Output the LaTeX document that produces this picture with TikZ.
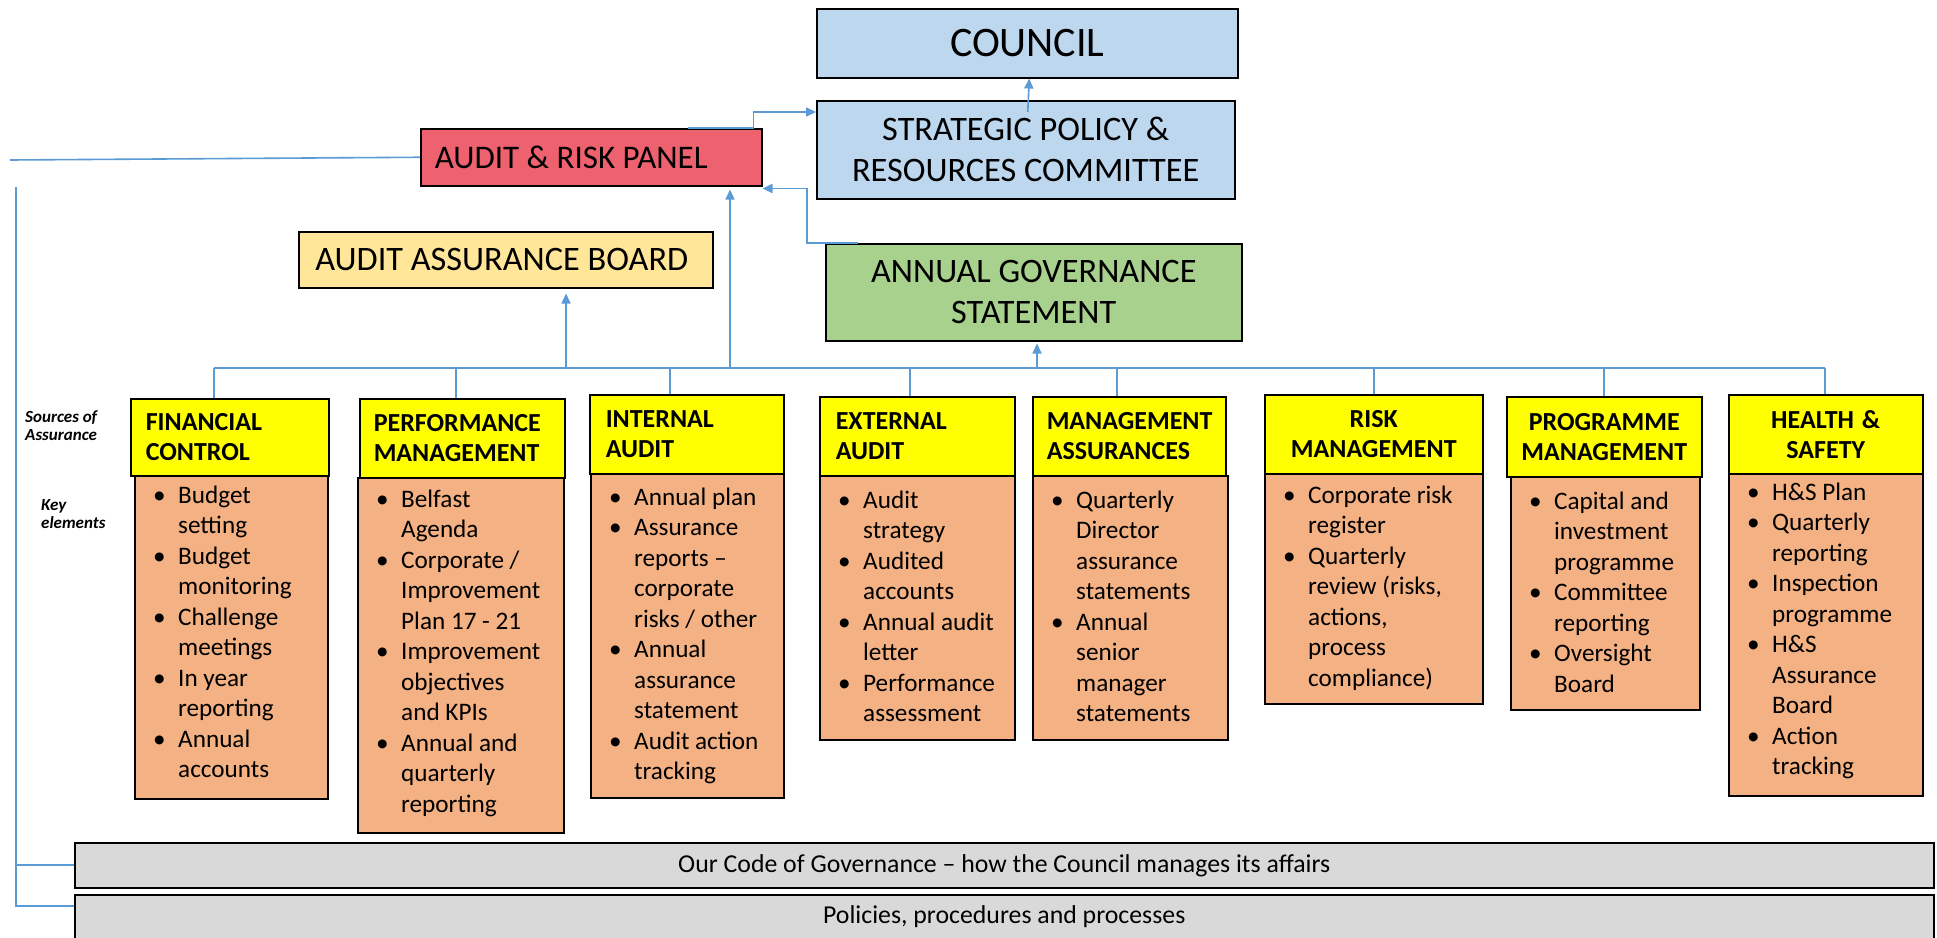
\documentclass[tikz,border=0pt]{standalone}
\usepackage{fontspec}
\setmainfont{Carlito}
\usetikzlibrary{arrows.meta,calc}
\definecolor{cblue}{HTML}{BDD7EE}
\definecolor{cred}{HTML}{EE6270}
\definecolor{cyel}{HTML}{FFE699}
\definecolor{cgreen}{HTML}{A9D18E}
\definecolor{hyel}{HTML}{FFFF00}
\definecolor{corange}{HTML}{F4B183}
\definecolor{cgray}{HTML}{D9D9D9}
\definecolor{lblue}{HTML}{5B9BD5}
\newcommand{\bl}[1]{\par\noindent\hspace*{19pt}\makebox[25pt][l]{\textbullet}\mbox{#1}}
\newcommand{\cl}[1]{\par\noindent\hspace*{44pt}\mbox{#1}}
\newcommand{\bodyfont}{\fontsize{25.2pt}{30.5pt}\selectfont}
\begin{document}
\begin{tikzpicture}[x=1pt,y=-1pt,
  box/.style={draw=black, line width=1.5pt, inner sep=0pt, anchor=north west},
  conn/.style={draw=lblue, line width=1.6pt},
  arr/.style={conn, -{Triangle[length=10pt,width=9pt]}},
  hdr/.style={box, fill=hyel, font=\fontsize{26pt}{30pt}\selectfont\bfseries},
  bod/.style={box, fill=corange},
  bar/.style={box, fill=cgray, font=\fontsize{25.8pt}{30pt}\selectfont},
  btxt/.style={anchor=base west, inner sep=0pt},
  big/.style={box, font=\fontsize{34.3pt}{41pt}\selectfont},
]
\useasboundingbox[fill=white] (0,0) rectangle (1937,937);

% top boxes
\node[box, fill=cblue, minimum width=421pt, minimum height=69pt, font=\fontsize{42pt}{48pt}\selectfont] (council) at (816,8) {COUNCIL};
\node[big, fill=cblue, minimum width=418pt, minimum height=98pt, align=center] (spr) at (816,100) {STRATEGIC POLICY \&\\RESOURCES COMMITTEE};
\node[big, fill=cred, minimum width=341pt, minimum height=57pt, text width=313pt, align=left, font=\fontsize{33pt}{40pt}\selectfont] (arp) at (420,128) {\spaceskip=0pt\relax AUDIT \& RISK PANEL};
\node[big, fill=cyel, minimum width=414pt, minimum height=56pt] (aab) at (298,231) {AUDIT ASSURANCE BOARD\hspace*{8pt}};
\node[big, fill=cgreen, minimum width=416pt, minimum height=97pt, align=center] (ags) at (825,243) {ANNUAL GOVERNANCE\\STATEMENT};

% side labels
\node[btxt] (soa) at (25,422) {\parbox[t]{100pt}{\fontsize{17pt}{18pt}\selectfont\bfseries\itshape Sources of\\Assurance}};
\node[btxt] (kel) at (41,510) {\parbox[t]{100pt}{\fontsize{17pt}{18pt}\selectfont\bfseries\itshape Key\\elements}};

% headers
\node[hdr, minimum width=198pt, minimum height=77pt, text width=168pt, align=left] (fcH) at (130,398) {FINANCIAL\\CONTROL};
\node[hdr, minimum width=205pt, minimum height=79pt, text width=177pt, align=left] (pmH) at (359,398) {PERFORMANCE\\MANAGEMENT};
\node[hdr, minimum width=194pt, minimum height=79pt, text width=162pt, align=left] (iaH) at (589,394) {INTERNAL\\AUDIT};
\node[hdr, minimum width=195pt, minimum height=79pt, text width=163pt, align=left] (eaH) at (819,396) {EXTERNAL\\AUDIT};
\node[hdr, minimum width=193pt, minimum height=79pt, text width=165pt, align=left] (maH) at (1032,396) {MANAGEMENT\\ASSURANCES};
\node[hdr, minimum width=218pt, minimum height=79pt, text width=200pt, align=center] (rmH) at (1264,394) {RISK\\MANAGEMENT};
\node[hdr, minimum width=195pt, minimum height=80pt, text width=190pt, align=center] (pgH) at (1506,396) {PROGRAMME\\MANAGEMENT};
\node[hdr, minimum width=194pt, minimum height=79pt, text width=180pt, align=center] (hsH) at (1728,394) {\spaceskip=0pt\relax HEALTH \&\\SAFETY};

% bodies
\node[bod, minimum width=193pt, minimum height=323pt] (fcB) at (134,475) {};
\node[bod, minimum width=206pt, minimum height=355pt] (pmB) at (357,477) {};
\node[bod, minimum width=193pt, minimum height=324pt] (iaB) at (590,473) {};
\node[bod, minimum width=195pt, minimum height=264pt] (eaB) at (819,475) {};
\node[bod, minimum width=195pt, minimum height=264pt] (maB) at (1032,475) {};
\node[bod, minimum width=218pt, minimum height=230pt] (rmB) at (1264,473) {};
\node[bod, minimum width=189pt, minimum height=233pt] (pgB) at (1510,476) {};
\node[bod, minimum width=194pt, minimum height=322pt] (hsB) at (1728,473) {};

\node[btxt] (fcT) at ($(fcB.north west)+(0,28)$) {\parbox[t]{190pt}{\bodyfont
  \bl{Budget}\cl{setting}\bl{Budget}\cl{monitoring}\bl{Challenge}\cl{meetings}\bl{In year}\cl{reporting}\bl{Annual}\cl{accounts}}};
\node[btxt] (pmT) at ($(pmB.north west)+(0,30)$) {\parbox[t]{200pt}{\bodyfont
  \bl{Belfast}\cl{Agenda}\bl{Corporate /}\cl{Improvement}\cl{Plan 17 - 21}\bl{Improvement}\cl{objectives}\cl{and KPIs}\bl{Annual and}\cl{quarterly}\cl{reporting}}};
\node[btxt] (iaT) at ($(iaB.north west)+(0,32)$) {\parbox[t]{190pt}{\bodyfont
  \bl{Annual plan}\bl{Assurance}\cl{reports –}\cl{corporate}\cl{risks / other}\bl{Annual}\cl{assurance}\cl{statement}\bl{Audit action}\cl{tracking}}};
\node[btxt] (eaT) at ($(eaB.north west)+(0,33)$) {\parbox[t]{190pt}{\bodyfont
  \bl{Audit}\cl{strategy}\bl{Audited}\cl{accounts}\bl{Annual audit}\cl{letter}\bl{Performance}\cl{assessment}}};
\node[btxt] (maT) at ($(maB.north west)+(0,33)$) {\parbox[t]{190pt}{\bodyfont
  \bl{Quarterly}\cl{Director}\cl{assurance}\cl{statements}\bl{Annual}\cl{senior}\cl{manager}\cl{statements}}};
\node[btxt] (rmT) at ($(rmB.north west)+(0,30)$) {\parbox[t]{215pt}{\bodyfont
  \bl{Corporate risk}\cl{register}\bl{Quarterly}\cl{review (risks,}\cl{actions,}\cl{process}\cl{compliance)}}};
\node[btxt] (pgT) at ($(pgB.north west)+(0,33)$) {\parbox[t]{185pt}{\bodyfont
  \bl{Capital and}\cl{investment}\cl{programme}\bl{Committee}\cl{reporting}\bl{Oversight}\cl{Board}}};
\node[btxt] (hsT) at ($(hsB.north west)+(0,27)$) {\parbox[t]{190pt}{\bodyfont
  \bl{H\&S Plan}\bl{Quarterly}\cl{reporting}\bl{Inspection}\cl{programme}\bl{H\&S}\cl{Assurance}\cl{Board}\bl{Action}\cl{tracking}}};

% bottom bars
\node[bar, minimum width=1859pt, minimum height=45pt] (code) at (74,842) {Our Code of Governance – how the Council manages its affairs};
\node[bar, minimum width=1859pt, minimum height=60pt, text depth=20pt] (pol) at (74,894) {Policies, procedures and processes};

% connectors
\coordinate (lh) at (10,160);
\coordinate (lv) at (16,187);
\draw[conn] (lh) -- (arp.west);
\draw[conn] (lv) |- (code.west);
\draw[conn] (lv) |- ($(pol.north west)+(0,12)$);

\coordinate (busL) at (214,368);
\coordinate (busR) at (1825,368);
\draw[conn] (busL) -- (busR);
\coordinate (d2) at (456,368);
\coordinate (d3) at (670,368);
\coordinate (d4) at (910,368);
\coordinate (d5) at (1117,368);
\coordinate (d6) at (1374,368);
\coordinate (d7) at (1604,368);
\draw[conn] (busL) -- (busL |- fcH.north);
\draw[conn] (d2) -- (d2 |- pmH.north);
\draw[conn] (d3) -- (d3 |- iaH.north);
\draw[conn] (d4) -- (d4 |- eaH.north);
\draw[conn] (d5) -- (d5 |- maH.north);
\draw[conn] (d6) -- (d6 |- rmH.north);
\draw[conn] (d7) -- (d7 |- pgH.north);
\draw[conn] (busR) -- (busR |- hsH.north);

\coordinate (u1) at (566,368);
\coordinate (u2) at (730,368);
\coordinate (u3) at (1037,368);
\draw[arr, shorten >=5pt] (u1) -- (u1 |- aab.south);
\draw[arr, shorten >=3pt] (u2) -- (u2 |- arp.south);
\draw[arr, shorten >=2pt] (u3) -- (u3 |- ags.south);
\draw[arr] ($(spr.north)+(2,12)$) -- ($(council.south)+(2,0)$);
\draw[arr] ($(arp.north east)+(-75,0)$) -- ($(arp.north east)+(-9,0)$) |- ($(spr.north west)+(0,12)$);
\draw[arr] ($(ags.north west)+(33,0)$) -- ($(ags.north west)+(-18,0)$) |- ($(arp.south east)+(0,2)$);
\end{tikzpicture}
\end{document}
